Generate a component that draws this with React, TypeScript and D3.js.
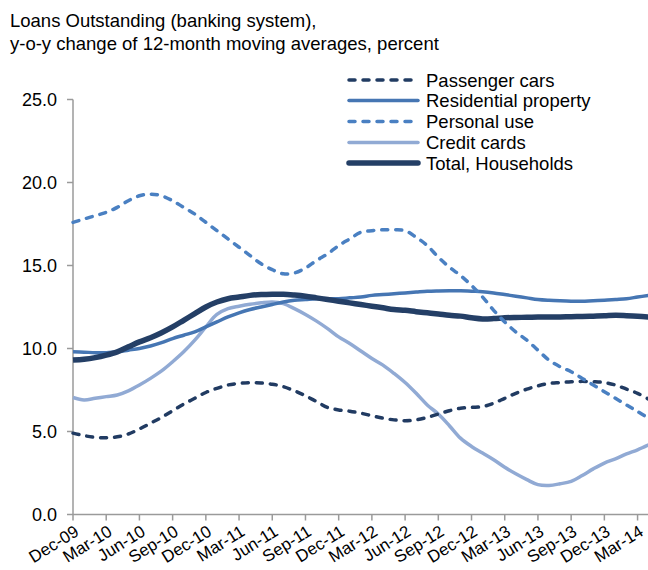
import React from "react";
import * as d3 from "d3";

const tickLabels = ["Dec-09","Mar-10","Jun-10","Sep-10","Dec-10","Mar-11","Jun-11","Sep-11","Dec-11","Mar-12","Jun-12","Sep-12","Dec-12","Mar-13","Jun-13","Sep-13","Dec-13","Mar-14"];
// monthly, Dec-09 .. Apr-14 (53 months)
const passengerCars = [4.9,4.75,4.65,4.62,4.68,4.85,5.15,5.5,5.85,6.25,6.65,7.0,7.35,7.6,7.8,7.9,7.94,7.92,7.85,7.7,7.45,7.15,6.8,6.45,6.3,6.22,6.1,5.95,5.8,5.7,5.65,5.7,5.85,6.05,6.25,6.4,6.45,6.5,6.7,7.0,7.3,7.55,7.75,7.9,7.95,8.0,8.02,8.0,7.95,7.8,7.55,7.3,6.95];
const residential = [9.8,9.78,9.75,9.75,9.8,9.9,10.0,10.15,10.35,10.6,10.8,11.0,11.3,11.6,11.9,12.15,12.35,12.5,12.65,12.8,12.9,12.95,13.0,13.0,13.0,13.05,13.1,13.2,13.25,13.3,13.35,13.4,13.45,13.47,13.48,13.48,13.45,13.42,13.35,13.25,13.15,13.05,12.95,12.9,12.87,12.85,12.85,12.88,12.9,12.95,13.0,13.1,13.2];
const personalUse = [17.6,17.8,18.0,18.2,18.5,18.9,19.2,19.3,19.2,18.9,18.5,18.1,17.6,17.1,16.6,16.1,15.6,15.1,14.75,14.5,14.55,14.85,15.3,15.7,16.2,16.6,17.0,17.1,17.15,17.15,17.1,16.7,16.2,15.5,14.9,14.4,13.8,13.1,12.3,11.6,11.0,10.5,9.9,9.3,8.9,8.6,8.2,7.8,7.4,7.0,6.6,6.2,5.8];
const creditCards = [7.05,6.9,7.0,7.1,7.2,7.45,7.8,8.2,8.65,9.2,9.8,10.5,11.3,12.05,12.4,12.55,12.67,12.75,12.8,12.7,12.4,12.05,11.65,11.2,10.7,10.3,9.85,9.4,9.0,8.5,7.95,7.3,6.6,6.05,5.35,4.6,4.1,3.7,3.3,2.85,2.45,2.1,1.8,1.75,1.85,2.0,2.35,2.75,3.1,3.35,3.65,3.9,4.2];
const totalHouseholds = [9.3,9.35,9.45,9.6,9.8,10.1,10.4,10.65,10.95,11.3,11.7,12.1,12.5,12.8,13.0,13.1,13.2,13.25,13.27,13.27,13.22,13.15,13.05,12.95,12.85,12.75,12.65,12.55,12.45,12.35,12.3,12.22,12.15,12.08,12.0,11.95,11.85,11.78,11.8,11.85,11.87,11.88,11.9,11.9,11.9,11.92,11.93,11.95,11.97,12.0,11.98,11.95,11.9];
const yTicks = [0, 5, 10, 15, 20, 25];
const titleLines = ["Loans Outstanding (banking system),", "y-o-y change of 12-month moving averages, percent"];

const seriesDefs = [
  { name: "Passenger cars", values: passengerCars, color: "#213b62", width: 3.5, dash: "6 8" },
  { name: "Residential property", values: residential, color: "#4676b3", width: 3.5, dash: null },
  { name: "Personal use", values: personalUse, color: "#4a80c2", width: 3.5, dash: "6 8" },
  { name: "Credit cards", values: creditCards, color: "#91aad4", width: 3.5, dash: null },
  { name: "Total, Households", values: totalHouseholds, color: "#243f66", width: 5.5, dash: null },
];

const W = 648, H = 570;
const x0 = 73, monthPx = 11.07;
const yTop = 99.5, yBot = 514.5;

export default function App() {
  const x = d3.scaleLinear().domain([0, 52]).range([x0, x0 + 52 * monthPx]);
  const y = d3.scaleLinear().domain([0, 25]).range([yBot, yTop]);
  const line = d3.line<number>().x((_, i) => x(i)).y((d) => y(d)).curve(d3.curveCatmullRom.alpha(0.5));
  const font = "'Liberation Sans', Arial, sans-serif";
  const axisColor = "#9a9a9a";
  const legendY = [80, 100.5, 121.5, 142.5, 163];
  const drawOrder = [3, 1, 4, 0, 2];
  return (
    <svg width={W} height={H} style={{ position: "absolute", left: 0, top: 0, background: "#fff" }} fontFamily={font}>
      {titleLines.map((t, i) => (
        <text key={i} x={10} y={27 + i * 22.5} fontSize={18.5} fill="#000">{t}</text>
      ))}
      {/* y axis */}
      <line x1={x0} x2={x0} y1={yTop} y2={yBot} stroke={axisColor} strokeWidth={1.5} />
      {yTicks.map((t) => (
        <g key={t}>
          <line x1={x0 - 6} x2={x0} y1={y(t)} y2={y(t)} stroke={axisColor} strokeWidth={1.5} />
          <text x={57} y={y(t) + 6.5} fontSize={18} textAnchor="end" fill="#000">{t.toFixed(1)}</text>
        </g>
      ))}
      {/* lines */}
      {drawOrder.map((k) => {
        const s = seriesDefs[k];
        return (
          <path key={s.name} d={line(s.values) || ""} fill="none" stroke={s.color} strokeWidth={s.width}
            strokeDasharray={s.dash || undefined} strokeLinecap={s.dash ? "round" : "butt"} strokeLinejoin="round" />
        );
      })}
      {/* x axis */}
      <line x1={x0} x2={W} y1={yBot} y2={yBot} stroke={axisColor} strokeWidth={1.5} />
      {tickLabels.map((lab, i) => {
        const tx = x(i * 3);
        return (
          <g key={lab}>
            <line x1={tx} x2={tx} y1={yBot} y2={yBot + 6} stroke={axisColor} strokeWidth={1.5} />
            <text transform={`translate(${tx + 7},${yBot + 20}) rotate(-32)`} fontSize={17} textAnchor="end" fill="#000">{lab}</text>
          </g>
        );
      })}
      {/* legend */}
      {seriesDefs.map((s, i) => (
        <g key={s.name}>
          <line x1={349} x2={418} y1={legendY[i]} y2={legendY[i]} stroke={s.color} strokeWidth={s.width}
            strokeDasharray={s.dash || undefined} strokeLinecap="round" />
          <text x={426} y={legendY[i] + 6.5} fontSize={18.5} fill="#000">{s.name}</text>
        </g>
      ))}
    </svg>
  );
}
